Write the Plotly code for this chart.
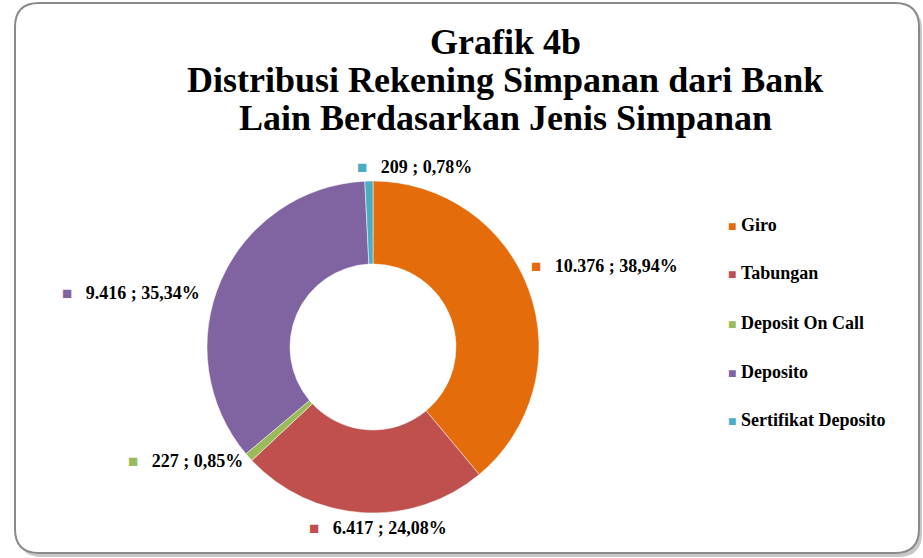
import plotly.graph_objects as go

categories = ["Giro", "Tabungan", "Deposit On Call", "Deposito", "Sertifikat Deposito"]
values = [10376, 6417, 227, 9416, 209]
colors = ["#E46C0A", "#C0504D", "#9BBB59", "#8064A2", "#4BACC6"]
title_lines = ["Grafik 4b", "Distribusi Rekening Simpanan dari Bank", "Lain Berdasarkan Jenis Simpanan"]

W, H = 923, 558
FONT = "Liberation Serif"

total = sum(values)

def fmt_int(v):
    return f"{v:,}".replace(",", ".")

def fmt_pct(v):
    return f"{v / total * 100:.2f}".replace(".", ",") + "%"

labels_text = [f"{fmt_int(v)} ; {fmt_pct(v)}" for v in values]

cx, cy, r = 373, 347, 166
fig = go.Figure()
fig.add_trace(go.Pie(
    labels=categories, values=values, hole=0.5, sort=False, direction="clockwise",
    rotation=0, marker=dict(colors=colors, line=dict(color="white", width=0.5)),
    textinfo="none", showlegend=False, hoverinfo="label+value+percent",
    domain=dict(x=[(cx - r) / W, (cx + r) / W], y=[(H - cy - r) / H, (H - cy + r) / H]),
))

def px(x, y):
    return x / W, 1 - y / H

# data label positions (left marker x, y center) in pixels
label_pos = [(529, 266), (307, 528), (126, 461), (60, 293), (355, 167)]
annotations = []
for txt, col, (lx, ly) in zip(labels_text, colors, label_pos):
    ax, ay = px(lx, ly)
    annotations.append(dict(
        x=ax, y=ay, xref="paper", yref="paper", xanchor="left", yanchor="middle",
        showarrow=False,
        text=f"<span style='color:{col};font-size:17px'>■</span>&nbsp;&nbsp;&nbsp;<b>{txt}</b>",
        font=dict(family=FONT, size=18, color="black"),
    ))

# legend
leg_y = [225, 273, 323, 372, 420]
for cat, col, ly in zip(categories, colors, leg_y):
    ax, ay = px(726, ly)
    annotations.append(dict(
        x=ax, y=ay, xref="paper", yref="paper", xanchor="left", yanchor="middle",
        showarrow=False,
        text=f"<span style='color:{col};font-size:14px'>■</span> <b>{cat}</b>",
        font=dict(family=FONT, size=18, color="black"),
    ))

# title
for i, line in enumerate(title_lines):
    ax, ay = px(505, 42 + 38 * i)
    annotations.append(dict(
        x=ax, y=ay, xref="paper", yref="paper", xanchor="center", yanchor="middle",
        showarrow=False, text=f"<b>{line}</b>",
        font=dict(family=FONT, size=36, color="black"),
    ))

def rounded_path(x0, y0, x1, y1, rad):
    def P(x, y):
        a, b = px(x, y)
        return f"{a:.5f},{b:.5f}"
    return (f"M {P(x0 + rad, y0)} L {P(x1 - rad, y0)} Q {P(x1, y0)} {P(x1, y0 + rad)} "
            f"L {P(x1, y1 - rad)} Q {P(x1, y1)} {P(x1 - rad, y1)} L {P(x0 + rad, y1)} "
            f"Q {P(x0, y1)} {P(x0, y1 - rad)} L {P(x0, y0 + rad)} Q {P(x0, y0)} {P(x0 + rad, y0)} Z")

shapes = [
    dict(type="path", xref="paper", yref="paper", path=rounded_path(18, 6, 922, 557, 24),
         fillcolor="#c8c8c8", line=dict(width=0), layer="below"),
    dict(type="path", xref="paper", yref="paper", path=rounded_path(15, 3, 919, 553, 24),
         fillcolor="white", line=dict(color="#8a8a8a", width=2), layer="below"),
]

fig.update_layout(
    width=W, height=H, margin=dict(l=0, r=0, t=0, b=0),
    paper_bgcolor="white", plot_bgcolor="white",
    annotations=annotations, shapes=shapes, showlegend=False,
    font=dict(family=FONT),
)
fig.write_html("out.html", config={"displayModeBar": False},
               post_script="document.body.style.margin='0';")
